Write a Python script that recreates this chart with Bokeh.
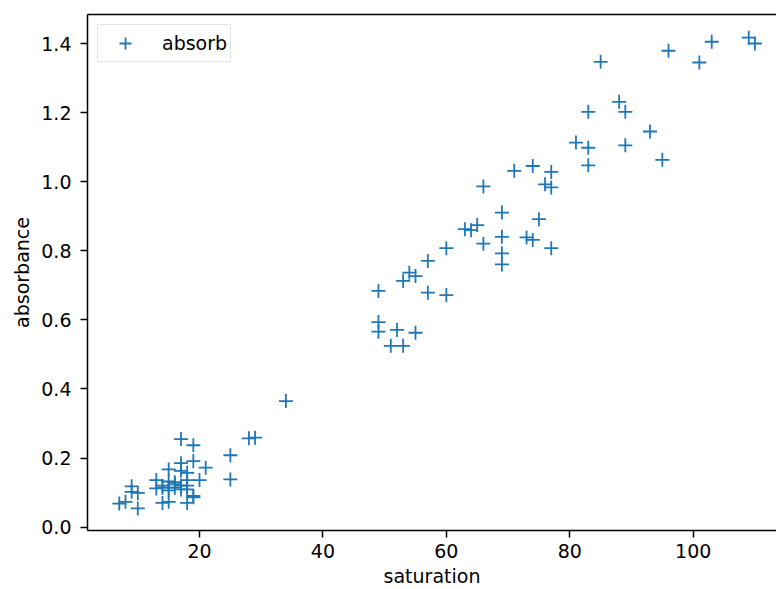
from bokeh.plotting import figure
from bokeh.models import ColumnDataSource, FixedTicker, PrintfTickFormatter, LinearAxis, Range1d
from bokeh.embed import file_html
from bokeh.resources import INLINE

saturation = [7, 8, 9, 9, 10, 10, 13, 13, 14, 14, 14, 15, 15, 15, 15, 15, 16, 16, 16,
              17, 17, 17, 17, 17, 18, 18, 18, 18, 18, 19, 19, 19, 19, 20, 21, 25, 25, 28, 29, 34,
              49, 49, 49, 51, 52, 53, 53, 54, 55, 55, 57, 57, 60, 60, 63, 64, 65, 66, 66,
              69, 69, 69, 69, 71, 73, 74, 74, 75, 76, 77, 77, 77, 81, 83, 83, 83, 85, 88, 89, 89,
              93, 95, 96, 101, 103, 109, 110]
absorbance = [0.068, 0.073, 0.118, 0.102, 0.099, 0.054, 0.136, 0.112, 0.070, 0.114, 0.120,
              0.167, 0.132, 0.114, 0.106, 0.073, 0.124, 0.114, 0.130,
              0.255, 0.185, 0.163, 0.120, 0.109, 0.157, 0.136, 0.120, 0.109, 0.070,
              0.237, 0.191, 0.090, 0.086, 0.136, 0.172, 0.208, 0.138, 0.257, 0.259, 0.365,
              0.684, 0.594, 0.566, 0.525, 0.571, 0.713, 0.525, 0.737, 0.727, 0.563,
              0.771, 0.679, 0.808, 0.672, 0.863, 0.860, 0.875, 0.987, 0.821,
              0.911, 0.841, 0.793, 0.761, 1.032, 0.839, 1.046, 0.832, 0.892, 0.993,
              1.029, 0.984, 0.808, 1.114, 1.203, 1.099, 1.048, 1.348, 1.232, 1.203, 1.106,
              1.146, 1.064, 1.380, 1.346, 1.406, 1.418, 1.401]
x_ticks = [20, 40, 60, 80, 100]
y_ticks = [0.0, 0.2, 0.4, 0.6, 0.8, 1.0, 1.2, 1.4]

FONT = "DejaVu Sans"
FS = "19px"

src = ColumnDataSource(data=dict(x=saturation, y=absorbance))

p = figure(width=776, height=589, output_backend="svg", toolbar_location=None,
           x_range=Range1d(1.85, 113.5), y_range=Range1d(-0.01, 1.485),
           min_border_left=87, min_border_right=0, min_border_top=14, min_border_bottom=58)
p.outline_line_color = None
p.grid.visible = False
p.background_fill_color = "white"

p.scatter("x", "y", source=src, marker="cross", size=14, line_width=1.8,
          color="#1f77b4", legend_label="absorb")

for ax in (p.xaxis[0], p.yaxis[0]):
    ax.axis_line_color = "black"
    ax.axis_line_width = 1.5
    ax.major_tick_line_color = "black"
    ax.major_tick_line_width = 1.5
    ax.major_tick_out = 7
    ax.major_tick_in = 0
    ax.minor_tick_line_color = None
    ax.major_label_text_font = FONT
    ax.major_label_text_font_size = FS
    ax.major_label_text_color = "black"
    ax.axis_label_text_font = FONT
    ax.axis_label_text_font_size = FS
    ax.axis_label_text_font_style = "normal"
    ax.axis_label_text_color = "black"

p.xaxis[0].ticker = FixedTicker(ticks=x_ticks)
p.xaxis[0].axis_label = "saturation"
p.xaxis[0].major_label_standoff = 6
p.xaxis[0].axis_label_standoff = 4

p.yaxis[0].ticker = FixedTicker(ticks=y_ticks)
p.yaxis[0].formatter = PrintfTickFormatter(format="%.1f")
p.yaxis[0].axis_label = "absorbance"
p.yaxis[0].major_label_standoff = 9
p.yaxis[0].axis_label_standoff = 5

top = LinearAxis(ticker=FixedTicker(ticks=[]), axis_line_color="black", axis_line_width=1.5,
                 major_tick_line_color=None, minor_tick_line_color=None,
                 major_label_text_font_size="0px")
p.add_layout(top, "above")

lg = p.legend[0]
lg.location = "top_left"
lg.margin = 10
lg.padding = 3
lg.spacing = 0
lg.glyph_width = 48
lg.glyph_height = 30
lg.label_standoff = 13
lg.label_text_font = FONT
lg.label_text_font_size = FS
lg.label_text_color = "black"
lg.border_line_color = "#cccccc"
lg.border_line_width = 1
lg.background_fill_alpha = 0.8

open("out.html", "w").write(file_html(p, INLINE))
